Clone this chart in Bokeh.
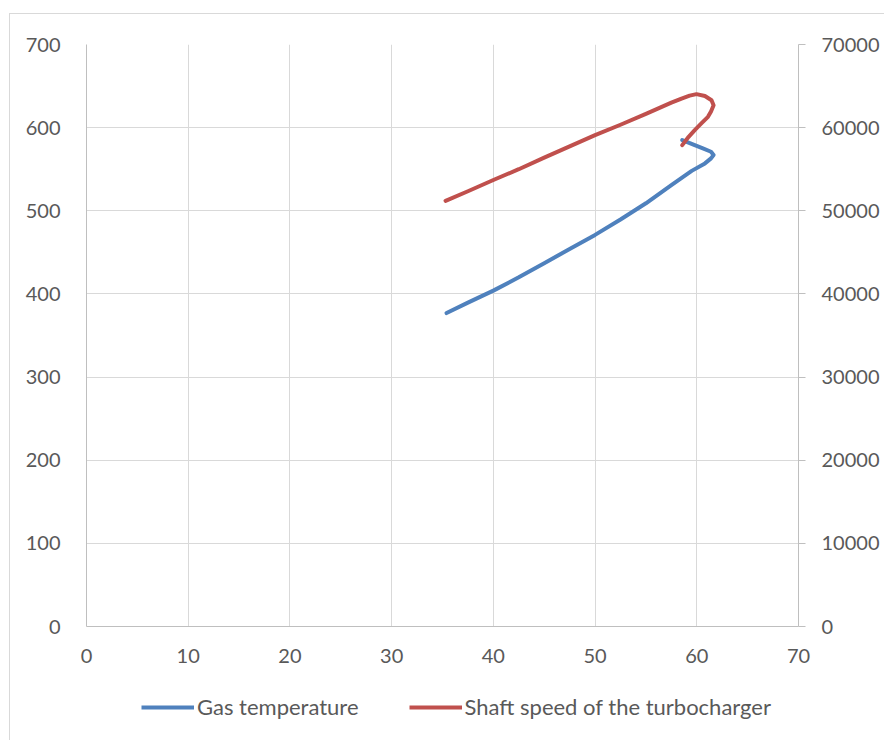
from bokeh.plotting import figure
from bokeh.models import Range1d, LinearAxis, Legend, LegendItem, FixedTicker
from bokeh.layouts import column
from bokeh.embed import file_html
from bokeh.resources import INLINE

# Gas temperature (left axis) vs x
gas_x = [35.4, 37.5, 40.0, 42.5, 45.0, 47.5, 50.0, 52.5, 55.0, 57.5, 59.5, 60.8, 61.4, 61.65, 61.4, 60.6, 59.8, 58.57]
gas_y = [377, 389.5, 404, 420, 437, 454, 471, 489.5, 509, 531, 548, 557, 563, 567, 571, 575, 579, 585]

# Shaft speed of the turbocharger (right axis) vs x
spd_x = [35.3, 37.5, 40.0, 42.5, 45.0, 47.5, 50.0, 52.5, 55.0, 57.5, 58.5, 59.3, 59.97, 60.8, 61.45, 61.65, 61.4, 61.1, 60.4, 59.8, 59.2, 58.57]
spd_y = [51200, 52350, 53700, 55000, 56400, 57750, 59100, 60350, 61650, 63000, 63500, 63850, 64030, 63800, 63300, 62700, 61950, 61300, 60450, 59700, 58900, 57900]

series_names = ["Gas temperature", "Shaft speed of the turbocharger"]
series_colors = ["#4f81bd", "#c0504d"]

x_ticks = [0, 10, 20, 30, 40, 50, 60, 70]
left_ticks = [0, 100, 200, 300, 400, 500, 600, 700]
right_ticks = [0, 10000, 20000, 30000, 40000, 50000, 60000, 70000]

FONT = "Lato"
TXT = "#595959"
GRID = "#d9d9d9"
AX = "#bfbfbf"

p = figure(width=874, height=660, output_backend="svg", toolbar_location=None,
           x_range=Range1d(0, 70), y_range=Range1d(0, 700),
           min_border_left=76, min_border_top=30, min_border_right=86, min_border_bottom=48)
p.outline_line_color = None
p.extra_y_ranges = {"right": Range1d(0, 70000)}

p.xaxis.ticker = FixedTicker(ticks=x_ticks)
p.yaxis.ticker = FixedTicker(ticks=left_ticks)
for ax in (p.xaxis[0], p.yaxis[0]):
    ax.major_tick_line_color = None
    ax.minor_tick_line_color = None
    ax.axis_line_color = AX
    ax.major_label_text_font = FONT
    ax.major_label_text_font_size = "20px"
    ax.major_label_text_color = TXT
p.xaxis.major_label_standoff = 16
p.yaxis.major_label_standoff = 20

ra = LinearAxis(y_range_name="right", ticker=FixedTicker(ticks=right_ticks))
ra.major_tick_in = 0
ra.major_tick_out = 7
ra.major_tick_line_color = AX
ra.minor_tick_line_color = None
ra.axis_line_color = AX
ra.major_label_text_font = FONT
ra.major_label_text_font_size = "20px"
ra.major_label_text_color = TXT
ra.major_label_standoff = 16
p.add_layout(ra, "right")

p.xgrid.ticker = FixedTicker(ticks=x_ticks)
p.ygrid.ticker = FixedTicker(ticks=left_ticks)
p.grid.grid_line_color = GRID
p.grid.grid_line_width = 1

p.line(gas_x, gas_y, line_color=series_colors[0], line_width=4, line_join="round", line_cap="round")
p.line(spd_x, spd_y, line_color=series_colors[1], line_width=4, line_join="round", line_cap="round",
       y_range_name="right")

# legend strip below the plot (its frame lines up with the plot frame)
q = figure(width=874, height=66, output_backend="svg", toolbar_location=None,
           x_range=Range1d(0, 1), y_range=Range1d(0, 1), min_border=0)
q.axis.visible = False
q.grid.visible = False
q.outline_line_color = None
q.border_fill_alpha = 0
q.background_fill_alpha = 0
# same series, outside this strip's visible ranges: only their legend swatches show
lr1 = q.line(gas_x, gas_y, line_color=series_colors[0], line_width=4)
lr2 = q.line(spd_x, spd_y, line_color=series_colors[1], line_width=4)

legend = Legend(items=[LegendItem(label=series_names[0], renderers=[lr1]),
                       LegendItem(label=series_names[1], renderers=[lr2])],
                orientation="horizontal", location=(55, 20))
legend.label_text_font = FONT
legend.label_text_font_size = "22px"
legend.label_text_color = TXT
legend.glyph_width = 53
legend.label_standoff = 3
legend.spacing = 50
legend.border_line_color = None
legend.background_fill_alpha = 0
legend.margin = 0
legend.padding = 0
q.add_layout(legend, "center")

layout = column(p, q, spacing=0, margin=(13, 0, 0, 9),
                styles={"border": "1px solid #d9d9d9"})

open("out.html", "w").write(file_html(layout, INLINE))
